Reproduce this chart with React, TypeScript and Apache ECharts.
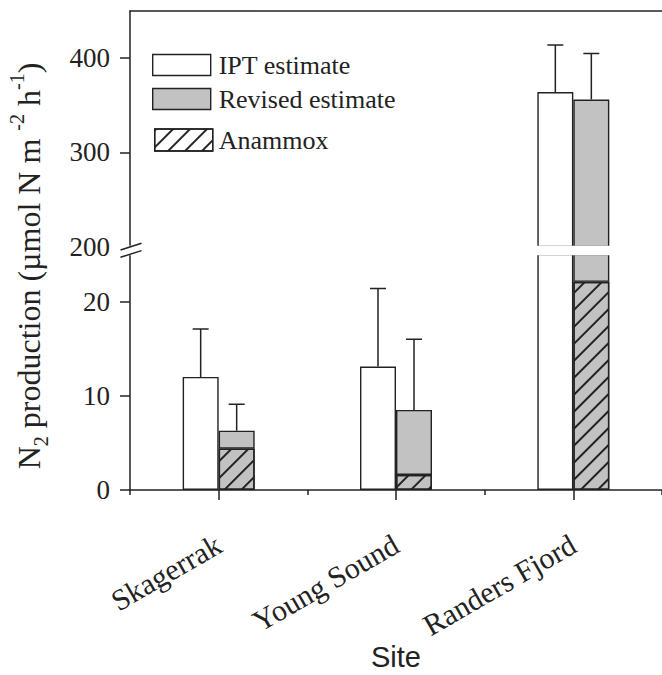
import React, { useEffect, useRef } from "react";
import * as echarts from "echarts";

// ---- data ----
const sites = ["Skagerrak", "Young Sound", "Randers Fjord"];
const iptEstimate = [12.0, 13.1, 364];
const iptError = [5.1, 8.3, 50];
const revisedEstimate = [6.3, 8.5, 356];
const revisedError = [2.8, 7.5, 49];
const anammox = [4.4, 1.6, 22.1];

const lowerRange = [0, 25];
const upperRange = [200, 450];
const lowerTicks = [0, 10, 20];
const lowerMinorTicks = [5, 15];
const upperTicks = [200, 300, 400];
const upperMinorTicks = [250, 350];

const SERIF = "'Liberation Serif', 'Times New Roman', serif";
const SANS = "'Liberation Sans', Arial, sans-serif";
const INK = "#222";
const GRAY = "#c2c2c2";
const BAR_W = 36;

const hatch = {
  symbol: "rect",
  symbolSize: 1,
  dashArrayX: [1, 0],
  dashArrayY: [1.5, 10],
  rotation: -Math.PI / 4,
  color: INK,
};

function errorSeries(
  name: string,
  values: number[],
  errors: number[],
  offset: number,
  xAxisIndex: number,
  yAxisIndex: number,
  keep: (v: number, top: number) => boolean
) {
  const data: number[][] = [];
  values.forEach((v, i) => {
    const top = v + errors[i];
    if (keep(v, top)) data.push([i, v, top]);
  });
  return {
    type: "custom",
    name: name + " error",
    xAxisIndex,
    yAxisIndex,
    clip: true,
    z: 5,
    silent: true,
    data,
    renderItem: (_p: any, api: any) => {
      const c = api.value(0);
      const base = api.coord([c, api.value(1)]);
      const top = api.coord([c, api.value(2)]);
      const x = base[0] + offset;
      return {
        type: "group",
        children: [
          {
            type: "line",
            shape: { x1: x, y1: base[1], x2: x, y2: top[1] },
            style: { stroke: INK, lineWidth: 1.5 },
          },
          {
            type: "line",
            shape: { x1: x - 8, y1: top[1], x2: x + 8, y2: top[1] },
            style: { stroke: INK, lineWidth: 1.5 },
          },
        ],
      };
    },
  };
}

function barSeries(xAxisIndex: number, yAxisIndex: number, key: string) {
  const common = {
    type: "bar",
    xAxisIndex,
    yAxisIndex,
    barWidth: BAR_W,
    barGap: "0%",
    clip: true,
  };
  return [
    {
      ...common,
      name: "IPT estimate",
      data: iptEstimate,
      itemStyle: { color: "#fff", borderColor: INK, borderWidth: 1.4 },
    },
    {
      ...common,
      name: "Anammox",
      stack: "rev" + key,
      data: anammox,
      itemStyle: { color: GRAY, borderColor: INK, borderWidth: 1.4, decal: hatch },
    },
    {
      ...common,
      name: "Revised estimate",
      stack: "rev" + key,
      data: revisedEstimate.map((v, i) => v - anammox[i]),
      itemStyle: { color: GRAY, borderColor: INK, borderWidth: 1.4 },
    },
  ];
}

export default function App() {
  const ref = useRef<HTMLDivElement>(null);
  useEffect(() => {
    if (!ref.current) return;
    const chart = echarts.init(ref.current, null, { renderer: "svg" });
    const axisLine = { show: true, lineStyle: { color: INK, width: 1.5 } };
    const tickLine = { color: INK, width: 1.5 };
    const keepUpper = (v: number) => v >= upperRange[0];
    const keepLower = (_v: number, top: number) => top <= lowerRange[1];

    const option: any = {
      animation: false,
      backgroundColor: "#fff",
      grid: [
        { left: 130, top: 11, width: 536, height: 235.5 },
        { left: 130, top: 254.5, width: 536, height: 235.5 },
      ],
      legend: [
        {
          data: ["IPT estimate", "Revised estimate"],
          orient: "vertical",
          left: 147,
          top: 47,
          itemWidth: 58,
          itemHeight: 21,
          itemGap: 8,
          icon: "rect",
          selectedMode: false,
          itemStyle: { borderColor: INK, borderWidth: 1.4 },
          textStyle: { fontSize: 26, fontFamily: SERIF, color: INK, padding: [0, 0, 0, 3] },
        },
        {
          data: [{ name: "Anammox", itemStyle: { color: "#fff" } }],
          orient: "vertical",
          left: 149,
          top: 122,
          itemWidth: 58,
          itemHeight: 22,
          icon: "rect",
          selectedMode: false,
          itemStyle: { borderColor: INK, borderWidth: 1.4 },
          textStyle: { fontSize: 26, fontFamily: SERIF, color: INK, padding: [0, 0, 0, 1] },
        },
      ],
      xAxis: [
        {
          type: "category",
          gridIndex: 0,
          data: sites,
          position: "top",
          axisLine,
          axisTick: { show: false },
          axisLabel: { show: false },
        },
        {
          type: "category",
          gridIndex: 1,
          data: sites,
          position: "bottom",
          axisLine,
          axisTick: { show: true, alignWithLabel: true, length: 10, lineStyle: tickLine },
          axisLabel: {
            rotate: 30,
            margin: 52,
            fontSize: 30,
            fontFamily: SERIF,
            color: INK,
            interval: 0,
          },
          name: "Site",
          nameLocation: "middle",
          nameGap: 145,
          nameTextStyle: { fontSize: 29, fontFamily: SANS, color: INK },
        },
        {
          type: "category",
          gridIndex: 1,
          data: sites,
          position: "bottom",
          axisLine: { show: false },
          axisTick: { show: true, alignWithLabel: false, length: 5, lineStyle: tickLine },
          axisLabel: { show: false },
        },
      ],
      yAxis: [
        {
          type: "value",
          gridIndex: 0,
          min: upperRange[0],
          max: upperRange[1],
          axisLine,
          splitLine: { show: false },
          axisTick: { show: true, length: 10, lineStyle: tickLine, customValues: upperTicks },
          axisLabel: {
            customValues: upperTicks,
            margin: 20,
            fontSize: 27,
            fontFamily: SERIF,
            color: INK,
          },
        },
        {
          type: "value",
          gridIndex: 0,
          min: upperRange[0],
          max: upperRange[1],
          axisLine: { show: false },
          splitLine: { show: false },
          axisTick: { show: true, length: 5, lineStyle: tickLine, customValues: upperMinorTicks },
          axisLabel: { show: false },
        },
        {
          type: "value",
          gridIndex: 1,
          min: lowerRange[0],
          max: lowerRange[1],
          axisLine,
          splitLine: { show: false },
          axisTick: { show: true, length: 10, lineStyle: tickLine, customValues: lowerTicks },
          axisLabel: {
            customValues: lowerTicks,
            margin: 20,
            fontSize: 27,
            fontFamily: SERIF,
            color: INK,
          },
        },
        {
          type: "value",
          gridIndex: 1,
          min: lowerRange[0],
          max: lowerRange[1],
          axisLine: { show: false },
          splitLine: { show: false },
          axisTick: { show: true, length: 5, lineStyle: tickLine, customValues: lowerMinorTicks },
          axisLabel: { show: false },
        },
      ],
      series: [
        ...barSeries(0, 0, "U"),
        ...barSeries(1, 2, "L"),
        errorSeries("IPT estimate", iptEstimate, iptError, -BAR_W / 2, 0, 0, keepUpper),
        errorSeries("Revised estimate", revisedEstimate, revisedError, BAR_W / 2, 0, 0, keepUpper),
        errorSeries("IPT estimate", iptEstimate, iptError, -BAR_W / 2, 1, 2, keepLower),
        errorSeries("Revised estimate", revisedEstimate, revisedError, BAR_W / 2, 1, 2, keepLower),
      ],
      graphic: [
        {
          type: "rect",
          z: 100,
          shape: { x: 119, y: 245.8, width: 560, height: 9.4 },
          style: { fill: "#fff" },
        },
        {
          type: "line",
          z: 101,
          shape: { x1: 120.5, y1: 250, x2: 141.5, y2: 243.3 },
          style: { stroke: INK, lineWidth: 1.5 },
        },
        {
          type: "line",
          z: 101,
          shape: { x1: 120.5, y1: 257.3, x2: 141.5, y2: 250.6 },
          style: { stroke: INK, lineWidth: 1.5 },
        },
        {
          type: "text",
          z: 101,
          x: 29,
          y: 266,
          rotation: Math.PI / 2,
          style: {
            text: "N{sub|2} production (µmol N m {sup|-2} h{sup|-1})",
            fontSize: 32,
            fontFamily: SERIF,
            fill: INK,
            align: "center",
            verticalAlign: "middle",
            lineHeight: 44,
            rich: {
              sub: { fontSize: 20, lineHeight: 18, verticalAlign: "bottom", fontFamily: SERIF, fill: INK },
              sup: { fontSize: 20, lineHeight: 24, verticalAlign: "top", fontFamily: SERIF, fill: INK },
            },
          },
        },
      ],
    };
    chart.setOption(option);
    return () => chart.dispose();
  }, []);
  return (
    <div
      ref={ref}
      style={{ position: "absolute", left: 0, top: 0, width: 662, height: 675 }}
    />
  );
}
